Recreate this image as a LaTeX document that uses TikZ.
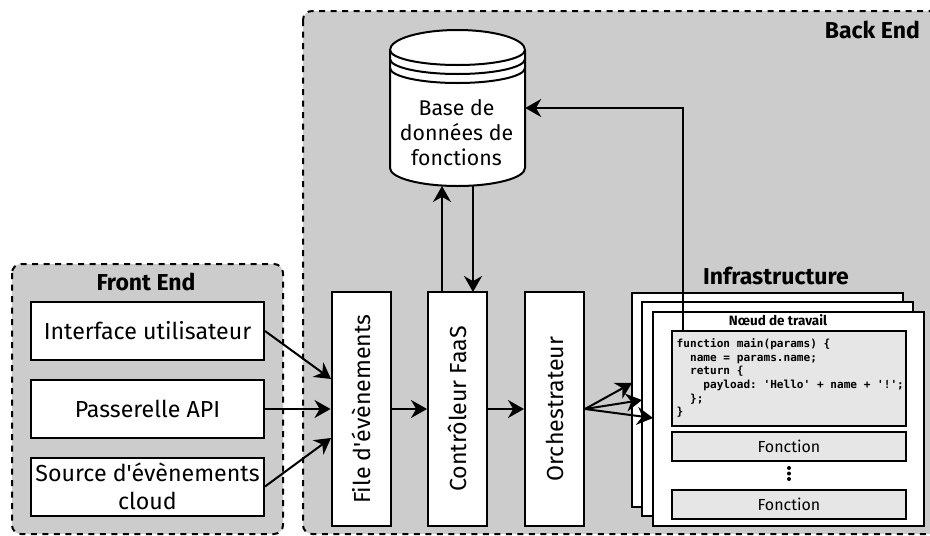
\documentclass[tikz,border=0pt]{standalone}
\usepackage{fontspec}
\setmainfont{Fira Sans}[Ligatures=TeXOff]
\setmonofont{DejaVu Sans Mono}
\definecolor{panelgray}{RGB}{204,204,204}
\definecolor{cellgray}{RGB}{230,230,230}
\usetikzlibrary{arrows.meta,calc}
\tikzset{
    panel/.style={draw, fill=panelgray, dash pattern=on 6pt off 5.5pt, line width=2pt, rounded corners=9pt},
    blockbox/.style={draw, fill=white, line width=2pt, inner sep=0pt, align=center, font=\fontsize{23.2}{27.5}\selectfont},
    workbox/.style={draw, fill=white, line width=2pt, inner sep=0pt, minimum width=271pt, minimum height=214pt},
    cellbox/.style={draw, fill=cellgray, line width=2pt, inner sep=0pt, minimum width=234pt, font=\fontsize{16}{18}\selectfont},
    titletext/.style={inner sep=0pt, font=\fontsize{23}{27}\selectfont\bfseries},
    flow/.style={line width=2pt, -{Stealth[length=16pt,width=18pt]}}
}
\begin{document}
\begin{tikzpicture}[x=1pt,y=-1pt]
            \useasboundingbox (0,0) rectangle (930,536);
            \fill[white] (0,0) rectangle (930,536);
            \draw[panel] (12,264) rectangle (283,534);
            \draw[panel] (303,11) rectangle (940,534);
            \node[titletext] (frontend) at (146,282) {Front End};
            \node[titletext,anchor=east] (backend) at (920,30) {Back End};
            \node[blockbox,minimum width=233pt,minimum height=58pt] (ui) at (147.5,331) {Interface utilisateur};
            \node[blockbox,minimum width=233pt,minimum height=58pt] (api) at (147.5,409) {Passerelle API};
            \node[blockbox,minimum width=233pt,minimum height=58pt] (cloud) at (147.5,486.5) {Source d'évènements\\cloud};
            \node[blockbox,minimum width=59pt,minimum height=234pt] (file) at (361,409) {\rotatebox{90}{File d'évènements}};
            \node[blockbox,minimum width=59pt,minimum height=234pt] (ctrl) at (457.5,409) {\rotatebox{90}{Contrôleur FaaS}};
            \node[blockbox,minimum width=59pt,minimum height=234pt] (orch) at (554.5,409) {\rotatebox{90}{Orchestrateur}};
            \draw[line width=2pt,fill=white] (390,50) arc[start angle=180,end angle=360,x radius=67.5,y radius=20]
                -- (525,168) arc[start angle=0,end angle=180,x radius=67.5,y radius=18] -- cycle;
            \draw[line width=2pt] (390,50) arc[start angle=180,end angle=0,x radius=67.5,y radius=15];
            \draw[line width=2pt] (390,59) arc[start angle=180,end angle=0,x radius=67.5,y radius=15];
            \draw[line width=2pt] (390,68) arc[start angle=180,end angle=0,x radius=67.5,y radius=15];
            \node[inner sep=0pt,minimum width=135pt,minimum height=156pt] (db) at (457.5,108) {};
            \node[inner sep=0pt,align=center,font=\fontsize{21.3}{25}\selectfont] (dbtext) at (456.5,133) {Base de\\données de\\fonctions};
            \node[titletext] (infra) at (776,276) {Infrastructure};
            \node[workbox] (workc) at (767.5,399.5) {};
            \node[workbox] (workb) at (777.5,409) {};
            \node[workbox] (worka) at (788.5,419) {};
            \node[inner sep=0pt,font=\fontsize{13.5}{16}\selectfont\bfseries] (worktitle) at (778,320) {Nœud de travail};
            \node[cellbox,minimum height=95pt] (code) at (789,378.5) {};
            \node[inner sep=0pt,anchor=west,align=left,font=\ttfamily\fontsize{11.1}{13.7}\selectfont\bfseries] (codetext) at (676.5,378) {function main(params) \{\\~~name = params.name;\\~~return \{\\~~~~payload: 'Hello' + name + '!';\\~~\};\\\}};
            \node[cellbox,minimum height=29pt] (fna) at (789,446.5) {Fonction};
            \node[cellbox,minimum height=29pt] (fnb) at (789,504.5) {Fonction};
            \foreach \y in {468,473.5,479} \fill (789,\y) circle (2);
            \coordinate (fileA) at (331,379);
            \coordinate (fileB) at (331,438);
            \coordinate (ctrlA) at (442,292);
            \coordinate (ctrlB) at (473,292);
            \coordinate (dbA) at (442,186);
            \coordinate (dbB) at (473,186);
            \coordinate (codetop) at (683,331);
            \coordinate (turn) at (683,108);
            \coordinate (workcin) at (632,383);
            \coordinate (workbin) at (642,400);
            \coordinate (workain) at (653,418);
            \draw[flow] (ui.east) -- (fileA);
            \draw[flow] (api.east) -- (file.west);
            \draw[flow] (cloud.east) -- (fileB);
            \draw[flow] (file.east) -- (ctrl.west);
            \draw[flow] (ctrl.east) -- (orch.west);
            \draw[flow] (ctrlA) -- (dbA);
            \draw[flow] (dbB) -- (ctrlB);
            \draw[flow] (codetop) -- (turn) -- (db.east);
            \draw[flow] (orch.east) -- (workcin);
            \draw[flow] (orch.east) -- (workbin);
            \draw[flow] (orch.east) -- (workain);
        \end{tikzpicture}
\end{document}
